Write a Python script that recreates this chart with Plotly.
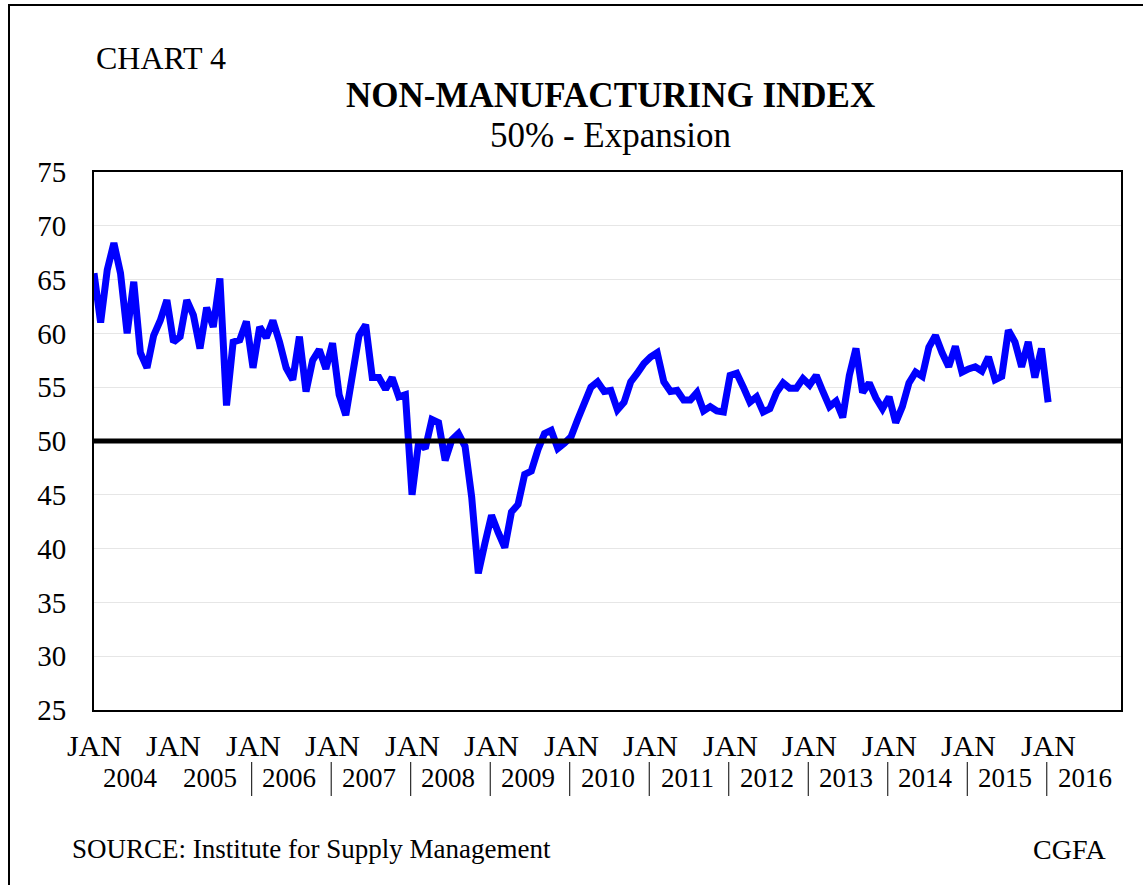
import plotly.graph_objects as go

# Monthly index values, Jan 2004 .. Jan 2016
values_2004 = [65.6, 61.0, 65.9, 68.4, 65.6, 60.0, 64.8, 58.2, 56.8, 59.8, 61.2, 63.1]
values_2005 = [59.2, 59.7, 63.1, 61.7, 58.6, 62.4, 60.6, 65.1, 53.3, 59.2, 59.4, 61.1]
values_2006 = [56.8, 60.6, 59.6, 61.2, 59.2, 56.8, 55.7, 59.7, 54.6, 57.5, 58.5, 56.7]
values_2007 = [59.1, 54.3, 52.4, 56.3, 59.8, 60.8, 55.9, 55.9, 54.8, 55.9, 54.1, 54.3]
values_2008 = [45.0, 49.9, 49.3, 52.0, 51.7, 48.2, 50.1, 50.7, 49.5, 44.8, 37.7, 40.5]
values_2009 = [43.1, 41.5, 40.1, 43.4, 44.1, 46.9, 47.2, 49.2, 50.7, 51.0, 49.3, 49.8]
values_2010 = [50.4, 52.0, 53.5, 55.0, 55.5, 54.6, 54.7, 52.9, 53.6, 55.5, 56.3, 57.2]
values_2011 = [57.8, 58.2, 55.5, 54.6, 54.7, 53.8, 53.8, 54.5, 52.8, 53.2, 52.8, 52.7]
values_2012 = [56.1, 56.3, 55.0, 53.6, 54.1, 52.7, 53.0, 54.5, 55.4, 54.9, 54.9, 55.8]
values_2013 = [55.2, 56.1, 54.6, 53.2, 53.7, 52.2, 56.1, 58.6, 54.5, 55.4, 54.0, 53.0]
values_2014 = [54.1, 51.7, 53.2, 55.4, 56.4, 56.0, 58.7, 59.8, 58.2, 56.9, 58.8, 56.4]
values_2015 = [56.7, 56.9, 56.5, 57.8, 55.7, 56.0, 60.3, 59.2, 56.9, 59.2, 55.9, 58.6]
values_2016 = [53.6]

years = [str(y) for y in range(2004, 2017)]
month_label = "JAN"
expansion_level = 50
y_ticks = [25, 30, 35, 40, 45, 50, 55, 60, 65, 70, 75]

values = (values_2004 + values_2005 + values_2006 + values_2007 + values_2008 +
          values_2009 + values_2010 + values_2011 + values_2012 + values_2013 +
          values_2014 + values_2015 + values_2016)
months = list(range(len(values)))

FONT = "Liberation Serif"

fig = go.Figure()
fig.add_trace(go.Scatter(x=months, y=values, mode="lines",
                         line=dict(color="#0000FF", width=7),
                         hoverinfo="skip", showlegend=False))

# 50% expansion line
fig.add_shape(type="line", xref="paper", yref="y", x0=0, x1=1,
              y0=expansion_level, y1=expansion_level,
              line=dict(color="black", width=5))

annotations = []
shapes = []
for k, yr in enumerate(years):
    annotations.append(dict(x=12 * k, y=0, xref="x", yref="paper", text=month_label,
                            showarrow=False, yanchor="middle", xanchor="center",
                            yshift=-35, font=dict(family=FONT, size=30, color="black")))
    annotations.append(dict(x=12 * k + 5.5, y=0, xref="x", yref="paper", text=yr,
                            showarrow=False, yanchor="middle", xanchor="center",
                            yshift=-68, font=dict(family=FONT, size=27, color="black")))
    if k > 0:
        shapes.append(dict(type="line", xref="x", yref="paper", x0=12 * k - 0.2, x1=12 * k - 0.2,
                           y0=-52 / 538, y1=-86 / 538, line=dict(color="black", width=1)))

PW, PH, L, T = 1027, 538, 94, 172
def px(x):
    return (x - L) / PW
def py(y):
    return (T + PH - y) / PH

annotations += [
    dict(x=px(94), y=py(58), xref="paper", yref="paper", text="CHART 4", showarrow=False,
         xanchor="left", yanchor="middle", font=dict(family=FONT, size=32, color="black")),
    dict(x=px(610), y=py(95), xref="paper", yref="paper", text="<b>NON-MANUFACTURING INDEX</b>",
         showarrow=False, xanchor="center", yanchor="middle",
         font=dict(family=FONT, size=35, color="black")),
    dict(x=px(610), y=py(135), xref="paper", yref="paper", text="50% - Expansion",
         showarrow=False, xanchor="center", yanchor="middle",
         font=dict(family=FONT, size=35, color="black")),
    dict(x=px(70), y=py(849), xref="paper", yref="paper",
         text="SOURCE: Institute for Supply Management", showarrow=False,
         xanchor="left", yanchor="middle", font=dict(family=FONT, size=27, color="black")),
    dict(x=px(1108), y=py(849), xref="paper", yref="paper", text="CGFA", showarrow=False,
         xanchor="right", yanchor="middle", font=dict(family=FONT, size=28, color="black")),
]

# outer frame (left and top edges visible)
shapes.append(dict(type="rect", xref="paper", yref="paper", x0=px(9), x1=px(1200),
                   y0=py(960), y1=py(5), line=dict(color="black", width=2), layer="below"))

fig.update_layout(
    width=1143, height=885,
    margin=dict(l=94, r=1143 - 94 - PW, t=172, b=885 - 172 - PH),
    paper_bgcolor="white", plot_bgcolor="white",
    xaxis=dict(range=[0, 155], showticklabels=False, showgrid=False, zeroline=False,
               showline=True, linecolor="black", linewidth=2, mirror=True, ticks=""),
    yaxis=dict(range=[25, 75], tickvals=y_ticks, showgrid=True, gridcolor="#e6e6e6",
               gridwidth=1, zeroline=False, showline=True, linecolor="black", linewidth=2,
               mirror=True, ticks="", ticklabelstandoff=20,
               tickfont=dict(family=FONT, size=29, color="black")),
    annotations=annotations,
    shapes=shapes,
    showlegend=False,
)

fig.write_html("out.html", config={"displayModeBar": False},
               post_script="document.body.style.margin='0';document.body.style.overflow='hidden';")
